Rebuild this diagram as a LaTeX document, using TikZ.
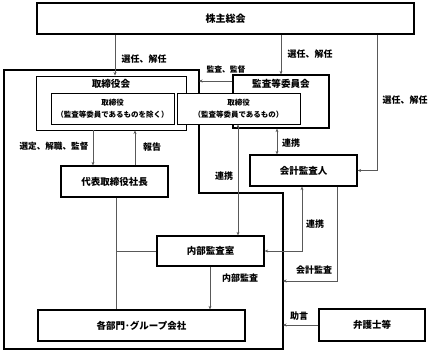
\documentclass[tikz,border=0pt]{standalone}
\usepackage{fontspec}
\setmainfont{Noto Sans CJK JP}
\usetikzlibrary{arrows.meta,calc}
\tikzset{
  box/.style={draw=black,line width=1.3pt,fill=white,inner sep=0pt,align=center,font=\bfseries\fontsize{9.5}{11}\selectfont},
  ibox/.style={draw=black,line width=0.9pt,fill=white,inner sep=0pt,align=center,font=\bfseries\fontsize{7.5}{12}\selectfont},
  conn/.style={draw=black!65,line width=0.7pt},
  arr/.style={conn,-{Stealth[length=3.5pt,width=3pt]}},
  darr/.style={conn,{Stealth[length=3.5pt,width=3pt]}-{Stealth[length=3.5pt,width=3pt]}},
  lbl/.style={font=\bfseries\fontsize{9}{10}\selectfont,inner sep=0pt},
  slbl/.style={font=\bfseries\fontsize{7.8}{9}\selectfont,inner sep=0pt},
  outer/.style={draw=black,line width=1.3pt}
}
\begin{document}
\begin{tikzpicture}[x=1pt,y=-1pt]
\useasboundingbox (0,0) rectangle (432,353);
% outer company boundary
\draw[outer] (4,70) -- (199,70) -- (199,193) -- (283,193) -- (283,349) -- (4,349) -- cycle;
% nodes
\node[box,minimum width=377pt,minimum height=31pt] (sh) at (225.5,18.5) {\fontsize{10}{12}\selectfont 株主総会};
\node[box,line width=0.9pt,minimum width=150pt,minimum height=54pt] (tb) at (111,103) {};
\node[lbl,font=\bfseries\fontsize{9.6}{11}\selectfont] (tbt) at (111,84) {取締役会};
\node[box,minimum width=96pt,minimum height=53pt] (kc) at (281,101.5) {};
\node[lbl,font=\bfseries\fontsize{9.6}{11}\selectfont] (kct) at (281,84) {監査等委員会};
\node[ibox,minimum width=123pt,minimum height=31pt] (tl) at (112.5,108.5) {取締役\\（監査等委員であるものを除く）};
\node[ibox,minimum width=123pt,minimum height=31pt] (tr) at (238.5,108.5) {取締役\\（監査等委員であるもの）};
\node[box,minimum width=107pt,minimum height=31pt] (ds) at (114.5,181.5) {代表取締役社長};
\node[box,minimum width=107pt,minimum height=31pt] (ka) at (303.5,170.5) {会計監査人};
\node[box,minimum width=107pt,minimum height=30pt] (na) at (210.5,251) {内部監査室};
\node[box,minimum width=207pt,minimum height=31pt] (bu) at (141.5,325.5) {各部門･グループ会社};
\node[box,minimum width=106pt,minimum height=32pt] (bg) at (372,325) {弁護士等};
% helper coordinates
\coordinate (x115) at (115,0);
\coordinate (x377) at (377,0);
\coordinate (ob81) at (199,81);
\coordinate (x93) at (93,0);
\coordinate (x135) at (135,0);
\coordinate (x277) at (277,0);
\coordinate (x238) at (238,0);
\coordinate (x302) at (302,0);
\coordinate (x337) at (337,0);
\coordinate (ob281) at (283,281);
\coordinate (x116) at (116,0);
\coordinate (x210) at (210,0);
\coordinate (ob325) at (283,325);
% connectors
\draw[arr] (sh.south -| x115) -- (tb.north -| x115);
\draw[arr] (sh.south -| kc.north) -- (kc.north);
\draw[arr] (sh.south -| x377) |- (ka.east);
\draw[arr] (kc.west |- ob81) -- (ob81);
\draw[arr] (tb.south -| x93) -- (ds.north -| x93);
\draw[arr] (ds.north -| x135) -- (tb.south -| x135);
\draw[darr] (kc.south -| x277) -- (ka.north -| x277);
\draw[darr] (tr.south -| x238) -- (na.north -| x238);
\draw[darr] (ka.south -| x302) |- (na.east);
\draw[arr] (ka.south -| x337) |- (ob281);
\draw[conn] (ds.south -| x116) -- (bu.north -| x116);
\draw[conn] (na.west) -- (na.west -| x116);
\draw[arr] (na.south -| x210) -- (bu.north -| x210);
\draw[arr] (bg.west) -- (ob325);
% labels
\node[lbl] (l1) at (144,59) {選任、解任};
\node[lbl] (l2) at (310,54) {選任、解任};
\node[lbl] (l3) at (405,100) {選任、解任};
\node[slbl] (l4) at (226,70) {監査、監督};
\node[lbl,font=\bfseries\fontsize{8.6}{10}\selectfont] (l5) at (54,146) {選定、解職、監督};
\node[lbl] (l6) at (152,147) {報告};
\node[lbl] (l7) at (291,143) {連携};
\node[lbl] (l8) at (224,176) {連携};
\node[lbl] (l9) at (315,224) {連携};
\node[lbl] (l10) at (314,270) {会計監査};
\node[lbl] (l11) at (240,278) {内部監査};
\node[lbl] (l12) at (299,316) {助言};
\end{tikzpicture}
\end{document}
